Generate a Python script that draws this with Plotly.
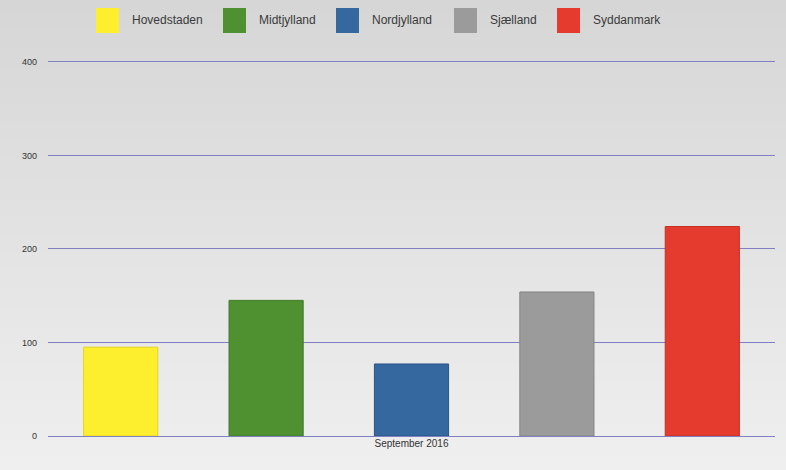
import plotly.graph_objects as go

# Monthly figures per Danish region
period = "September 2016"
regions = ["Hovedstaden", "Midtjylland", "Nordjylland", "Sjælland", "Syddanmark"]
values = [95, 145, 77, 154, 224]
colors = ["#fdee2e", "#4f9131", "#35689f", "#9b9b9b", "#e53b2f"]
edge_colors = ["#e6d520", "#3f7a25", "#2a5585", "#858585", "#c62f24"]
y_ticks = [0, 100, 200, 300, 400]

W, H = 786, 470
M_L, M_R, M_T, M_B = 48, 11, 60, 34

fig = go.Figure()
for name, val, col, edge in zip(regions, values, colors, edge_colors):
    fig.add_trace(go.Bar(
        x=[period], y=[val], name=name,
        marker=dict(color=col, line=dict(color=edge, width=1)),
        showlegend=False, hoverinfo="name+y",
    ))

# soft vertical background gradient drawn as thin bands
shapes = []
n_bands = 80
top = (214, 214, 214)
bot = (239, 239, 239)
plot_h = H - M_T - M_B
y_top = (H - M_B) / plot_h
y_bot = -M_B / plot_h
for i in range(n_bands):
    t = i / (n_bands - 1)
    c = tuple(round(top[k] + (bot[k] - top[k]) * t) for k in range(3))
    y1 = y_top - (y_top - y_bot) * i / n_bands
    y0 = y_top - (y_top - y_bot) * (i + 1) / n_bands
    shapes.append(dict(type="rect", xref="paper", yref="paper",
                       x0=-0.1, x1=1.1, y0=y0 - 0.002, y1=y1 + 0.002,
                       fillcolor="rgb(%d,%d,%d)" % c, line=dict(width=0),
                       layer="below"))

# legend row: coloured swatch followed by region name
legend_x = [96, 223, 336, 454, 557]
annotations = []
for name, col, lx in zip(regions, colors, legend_x):
    shapes.append(dict(type="rect", xref="paper", yref="paper",
                       x0=(lx - M_L) / (W - M_L - M_R),
                       x1=(lx + 23 - M_L) / (W - M_L - M_R),
                       y0=(H - M_B - 33) / plot_h, y1=(H - M_B - 8) / plot_h,
                       fillcolor=col, line=dict(width=0), layer="above"))
    annotations.append(dict(xref="paper", yref="paper",
                            x=(lx + 34 - M_L) / (W - M_L - M_R),
                            y=(H - M_B - 20.5) / plot_h,
                            xanchor="left", yanchor="middle", showarrow=False,
                            text=name, font=dict(size=12, color="#3a3a3a")))

fig.update_layout(
    width=W, height=H,
    margin=dict(l=M_L, r=M_R, t=M_T, b=M_B),
    paper_bgcolor="rgba(0,0,0,0)", plot_bgcolor="rgba(0,0,0,0)",
    font=dict(family="Liberation Sans, Arial, sans-serif", size=10, color="#333333"),
    barmode="group", bargap=0.0, bargroupgap=0.49,
    shapes=shapes, annotations=annotations,
    xaxis=dict(showgrid=False, showline=False, zeroline=False,
               tickfont=dict(size=10, color="#333333"), fixedrange=True),
    yaxis=dict(range=[0, 402], tickvals=y_ticks, showgrid=True,
               gridcolor="#7f7fc2", gridwidth=1.3, zeroline=True,
               zerolinecolor="#7f7fc2", zerolinewidth=1.3, showline=False,
               ticklabelstandoff=10,
               tickfont=dict(size=9, color="#333333"), fixedrange=True),
)

fig.write_html("out.html")
